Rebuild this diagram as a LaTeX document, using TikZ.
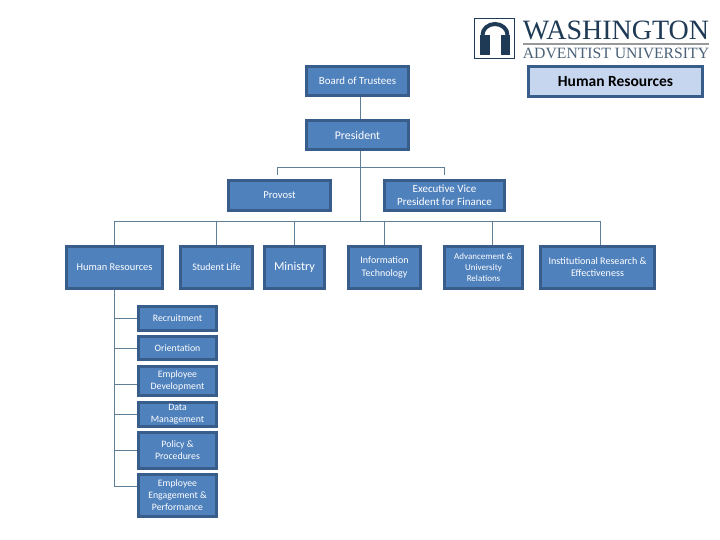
\documentclass[tikz,border=0pt]{standalone}
\usepackage{fontspec}
\setmainfont{Carlito}
\newfontfamily\logofont{Liberation Serif}
\usetikzlibrary{positioning}
\definecolor{boxfill}{HTML}{4F81BD}
\definecolor{boxedge}{HTML}{385D8A}
\definecolor{linkcol}{HTML}{5F7F96}
\definecolor{titlefill}{HTML}{C6D6EE}
\definecolor{logoblue}{HTML}{1E3A55}
\tikzset{
    orgbox/.style={draw=boxedge,fill=boxfill,line width=3pt,text=white,align=center,inner sep=0pt,font=\fontsize{10}{13}\selectfont},
    orglink/.style={draw=linkcol,line width=1pt}
}
\begin{document}
\begin{tikzpicture}[x=1pt,y=-1pt]
    \useasboundingbox (0,0) rectangle (720,540);

    % logo
    \draw[logoblue,line width=1.2pt] (474.5,18.5) rectangle (514.5,58.5);
    \fill[logoblue] (480,35) rectangle (490,55);
    \fill[logoblue] (501,35) rectangle (510,55);
    \draw[logoblue,line width=4pt] (482.5,35) arc[start angle=180,end angle=360,x radius=12.5,y radius=11];
    \node[inner sep=0pt,text=logoblue,font=\logofont\fontsize{28}{28}\selectfont] (logotop) at (616,30) {WASHINGTON};
    \fill[gray!80] (523,43.5) rectangle (709,45);
    \node[inner sep=0pt,text=logoblue!80,font=\logofont\fontsize{15.7}{16}\selectfont] (logobot) at (616,53.5) {ADVENTIST UNIVERSITY};

    \node[orgbox,minimum width=174,minimum height=30,fill=titlefill,text=black,font=\fontsize{15.5}{17}\selectfont\bfseries] (title) at (615.5,81.5) {\raisebox{-1.5pt}{Human Resources}};

    \node[orgbox,minimum width=102,minimum height=29,font=\fontsize{10.9}{13}\selectfont] (board) at (357.5,81) {\raisebox{-1pt}{Board of Trustees}};
    \node[orgbox,minimum width=102,minimum height=29,font=\fontsize{11.8}{13}\selectfont] (president) at (357.5,135) {President};
    \node[orgbox,minimum width=102,minimum height=30,font=\fontsize{10.6}{13}\selectfont] (provost) at (279.5,195.5) {Provost};
    \node[orgbox,minimum width=120,minimum height=30,font=\fontsize{11}{13}\selectfont] (finance) at (444.5,195.5) {Executive Vice\\President for Finance};

    \node[orgbox,minimum width=96,minimum height=42,font=\fontsize{10.4}{13}\selectfont] (hr) at (114.5,267.5) {Human Resources};
    \node[orgbox,minimum width=72,minimum height=42] (student) at (216.5,267) {Student Life};
    \node[orgbox,minimum width=60,minimum height=42,font=\fontsize{12.2}{13}\selectfont] (ministry) at (294.5,267) {Ministry};
    \node[orgbox,minimum width=72,minimum height=42] (infotech) at (384.5,267) {Information\\Technology};
    \node[orgbox,minimum width=78,minimum height=42,font=\fontsize{9}{11}\selectfont] (advance) at (483.5,267) {Advancement \&\\University\\Relations};
    \node[orgbox,minimum width=114,minimum height=42,font=\fontsize{10.1}{12.5}\selectfont] (research) at (597.5,267) {Institutional Research \&\\Effectiveness};

    \node[orgbox,minimum width=78,minimum height=24,font=\fontsize{9.8}{12}\selectfont] (recruit) at (177.5,318.5) {Recruitment};
    \node[orgbox,minimum width=78,minimum height=23,font=\fontsize{9.8}{12}\selectfont] (orient) at (177.5,348) {Orientation};
    \node[orgbox,minimum width=78,minimum height=29,font=\fontsize{9.8}{12}\selectfont] (empdev) at (177.5,381) {Employee\\Development};
    \node[orgbox,minimum width=78,minimum height=24,font=\fontsize{9.8}{12}\selectfont] (data) at (177.5,414.5) {Data\\Management};
    \node[orgbox,minimum width=78,minimum height=36,font=\fontsize{9.8}{12}\selectfont] (policy) at (177.5,450.5) {Policy \&\\Procedures};
    \node[orgbox,minimum width=78,minimum height=42,font=\fontsize{9.8}{12}\selectfont] (engage) at (177.5,495.5) {Employee\\Engagement \&\\Performance};

    % connectors
    \coordinate (busy) at (360,222);
    \coordinate (forky) at (360,168);
    \draw[orglink] ([xshift=2.5pt]board.south) -- ([xshift=2.5pt]president.north);
    \draw[orglink] ([xshift=2.5pt]president.south) -- (busy);
    \foreach \b/\s in {provost/-2.5,finance/0}
        {\draw[orglink] ([xshift=\s pt,yshift=4pt]\b.north) |- (forky);}
    \foreach \b/\s in {hr/0,student/0,ministry/0,infotech/0,advance/8.5,research/2.5}
        {\draw[orglink] ([xshift=\s pt]\b.north) |- (busy);}
    \foreach \c/\d in {recruit/0,orient/0,empdev/-3,data/0,policy/0,engage/9.5}
        {\draw[orglink] (hr.south) |- ([yshift=\d pt]\c.west);}
\end{tikzpicture}
\end{document}
